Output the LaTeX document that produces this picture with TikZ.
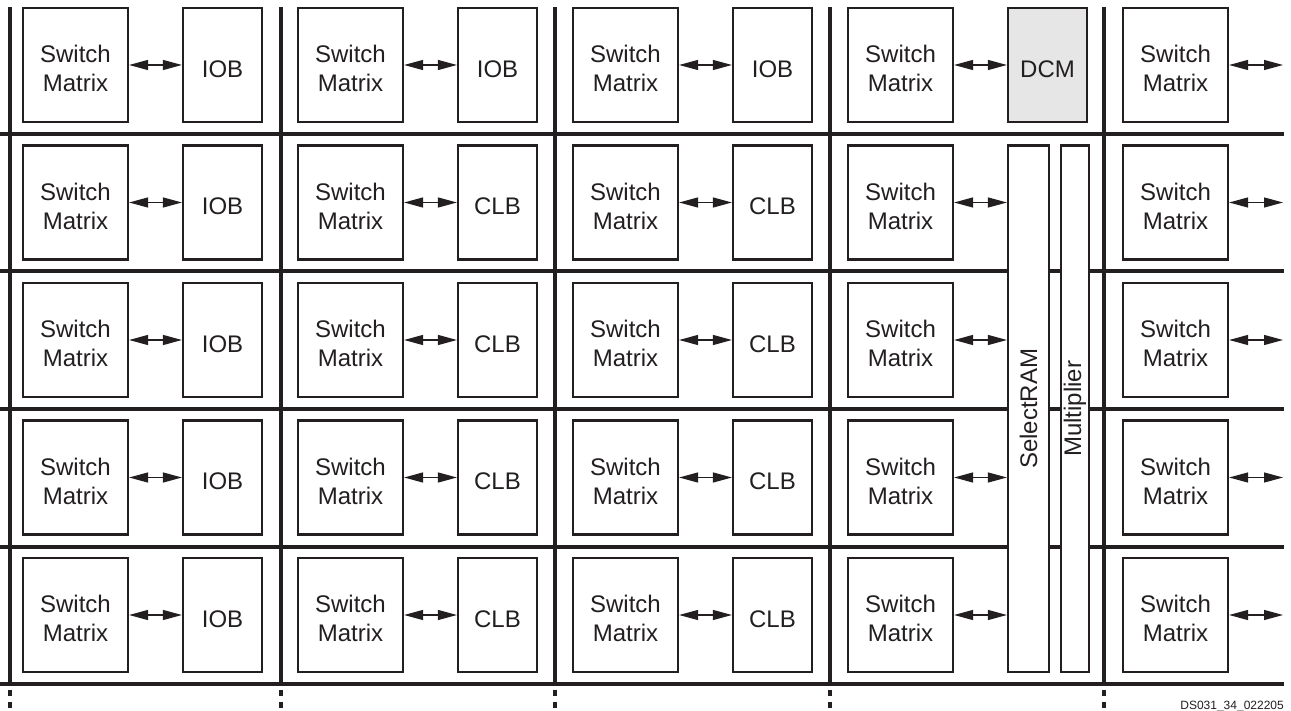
\documentclass[tikz,border=0pt]{standalone}
\usepackage{fontspec}
\setmainfont{Liberation Sans}
\usetikzlibrary{arrows.meta}
\definecolor{ink}{HTML}{231F20}
\definecolor{dcmfill}{HTML}{E6E6E6}
\begin{document}
\begin{tikzpicture}[x=1pt,y=-1pt,
  gridline/.style={line width=4pt, draw=ink},
  blk/.style={draw=ink, line width=2.2pt, fill=white, inner sep=0pt},
  txt/.style={font=\fontsize{24}{29}\selectfont, align=center, text=ink, inner sep=0pt},
  smbox/.style={blk, minimum width=105pt, minimum height=114pt},
  rbox/.style={blk, minimum width=79pt, minimum height=114pt},
  link/.style={line width=1.2pt, draw=ink, fill=ink, {Triangle[length=19pt,width=10pt]}-{Triangle[length=19pt,width=10pt]}}]
\useasboundingbox (0,0) rectangle (1291,711);
% grid lines
\foreach \y in {134,271.5,409,546.5,684}
  \draw[gridline] (0,\y) -- (1284,\y);
\foreach \x in {10,280.5,554.5,830,1104} {
  \draw[gridline] (\x,7) -- (\x,686);
  \draw[gridline, dash pattern=on 6pt off 6pt] (\x,690) -- (\x,708);
}
% switch matrices
\foreach \i in {0,...,4} {
  \foreach \j in {0,...,4} {
    \pgfmathsetmacro\cx{75.5+275*\j}
    \pgfmathsetmacro\cy{65+137.5*\i}
    \node[smbox, label={[txt,yshift=-3.5pt]center:{Switch\\Matrix}}] (sm-\i-\j) at (\cx,\cy) {};
  }
}
% right-hand boxes
\foreach \j in {0,1,2} {
  \pgfmathsetmacro\cx{222.5+275*\j}
  \node[rbox, label={[txt,yshift=-4pt]center:IOB}] (rb-0-\j) at (\cx,65) {};
}
\node[rbox, fill=dcmfill, label={[txt,yshift=-4pt]center:DCM}] (rb-0-3) at (1047.5,65) {};
\foreach \i in {1,...,4} {
  \pgfmathsetmacro\cy{65+137.5*\i}
  \node[rbox, label={[txt,yshift=-4pt]center:IOB}] (rb-\i-0) at (222.5,\cy) {};
  \node[rbox, label={[txt,yshift=-4pt]center:CLB}] (rb-\i-1) at (497.5,\cy) {};
  \node[rbox, label={[txt,yshift=-4pt]center:CLB}] (rb-\i-2) at (772.5,\cy) {};
}
% tall blocks
\node[blk, minimum width=41pt, minimum height=526.5pt,
      label={[txt,rotate=90]center:SelectRAM}] (sram) at (1028.5,408.75) {};
\node[blk, minimum width=28pt, minimum height=526.5pt,
      label={[txt,rotate=90]center:Multiplier}] (mult) at (1075,408.75) {};
% connectors
\foreach \j in {0,1,2,3}
  \draw[link] (sm-0-\j.east) -- (rb-0-\j.west);
\foreach \i in {1,...,4} {
  \foreach \j in {0,1,2}
    \draw[link] (sm-\i-\j.east) -- (rb-\i-\j.west);
  \draw[link] (sm-\i-3.east) -- (sm-\i-3.east -| sram.west);
}
\foreach \i in {0,...,4} {
  \coordinate (edge-\i) at (1283,{65+137.5*\i});
  \draw[link] (sm-\i-4.east) -- (edge-\i);
}
% figure id
\node[anchor=base east, inner sep=0pt, font=\fontsize{12}{14}\selectfont, text=ink] (figid) at (1284,709) {DS031\_34\_022205};
\end{tikzpicture}
\end{document}
